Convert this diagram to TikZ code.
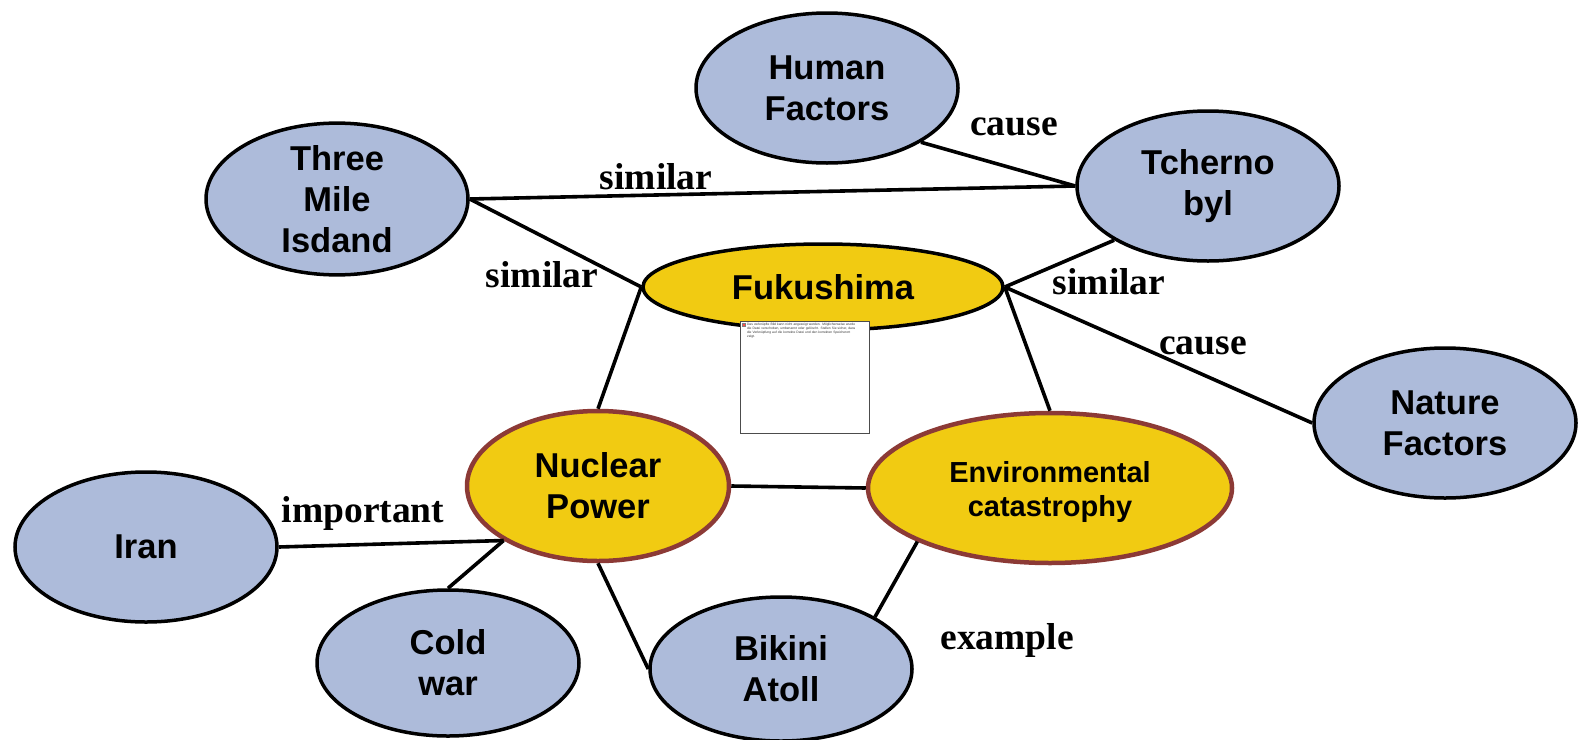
\documentclass[tikz,border=0pt]{standalone}
\usepackage{fontspec}
\setmainfont{Liberation Serif}
\setsansfont{Liberation Sans}
\usetikzlibrary{shapes.geometric}
\definecolor{topicblue}{HTML}{ADBBDA}
\definecolor{coreyellow}{HTML}{F1CB12}
\definecolor{corerim}{HTML}{8C3A36}
\begin{document}
\begin{tikzpicture}[x=1pt,y=-1pt,
  bubble/.style={ellipse,draw=black,line width=3.5pt,fill=topicblue,inner sep=0pt,
    minimum width=262pt,minimum height=150pt,align=center,
    font=\sffamily\bfseries\fontsize{34.5}{41}\selectfont},
  corebubble/.style={bubble,fill=coreyellow,draw=corerim,line width=4.5pt},
  link/.style={line width=3.6pt,draw=black},
  rel/.style={font=\rmfamily\bfseries\fontsize{37.5}{40}\selectfont,inner sep=0pt}]
\useasboundingbox[fill=white] (0,0) rectangle (1579,739);

% concept bubbles
\node[bubble] (human) at (827,88) {Human\\Factors};
\node[bubble] (tcherno) at (1208,186) {Tcherno\\byl};
\node[bubble] (tmi) at (337,199) {Three\\Mile\\Isdand};
\node[bubble,fill=coreyellow,minimum width=360pt,minimum height=86pt] (fuku) at (823,287) {Fukushima};
\node[bubble] (nature) at (1445,423) {Nature\\Factors};
\node[corebubble] (nuclear) at (598,486) {Nuclear\\Power};
\node[corebubble,minimum width=364pt] (env) at (1050,488) {};
\node[inner sep=0pt,align=center,font=\sffamily\bfseries\fontsize{29}{34}\selectfont] (envtext) at (1050,492) {Environmental\\catastrophy};
\node[bubble] (iran) at (146,547) {Iran};
\node[bubble,minimum height=146pt] (cold) at (448,663) {Cold\\war};
\node[bubble,minimum height=144pt] (bikini) at (781,669) {Bikini\\Atoll};

% relations
\draw[link] (human.330) -- (tcherno.west);
\draw[link] (tmi.east) -- (tcherno.west);
\draw[link] (tmi.east) -- (fuku.west);
\draw[link] (tcherno.210) -- (fuku.east);
\draw[link] (fuku.east) -- (nature.west);
\draw[link] (fuku.west) -- (nuclear.north);
\draw[link] (fuku.east) -- (env.north);
\draw[link] (nuclear.east) -- (env.west);
\draw[link] (iran.east) -- (nuclear.210);
\draw[link] (cold.north) -- (nuclear.210);
\draw[link] (nuclear.south) -- (bikini.west);
\draw[link] (env.202) -- (bikini.29);

% relation labels
\node[rel] (lcause1) at (1014,127) {cause};
\node[rel] (lsim1) at (656,177) {similar};
\node[rel] (lsim2) at (542,275) {similar};
\node[rel] (lsim3) at (1109,282) {similar};
\node[rel] (lcause2) at (1203,346) {cause};
\node[rel] (limp) at (363,513) {important};
\node[rel] (lex) at (1007,640) {example};

% missing linked picture frame
\node[draw=black!70,line width=0.8pt,fill=white,minimum width=129pt,minimum height=112pt,inner sep=0pt] (ph) at (804.5,377) {};
\node[fill=red!70,draw=black!50,line width=0.3pt,minimum size=3pt,inner sep=0pt,anchor=north west] (phicon) at ([xshift=2pt,yshift=-2pt]ph.north west) {};
\node[anchor=north west,inner sep=0pt,text width=112pt,align=left,
  font=\sffamily\fontsize{3.3}{4.2}\selectfont,text=black!80] (phtext) at ([xshift=2pt]phicon.north east)
  {Das verknüpfte Bild kann nicht angezeigt werden. Möglicherweise wurde die Datei verschoben, umbenannt oder gelöscht. Stellen Sie sicher, dass die Verknüpfung auf die korrekte Datei und den korrekten Speicherort zeigt.};
\end{tikzpicture}
\end{document}
